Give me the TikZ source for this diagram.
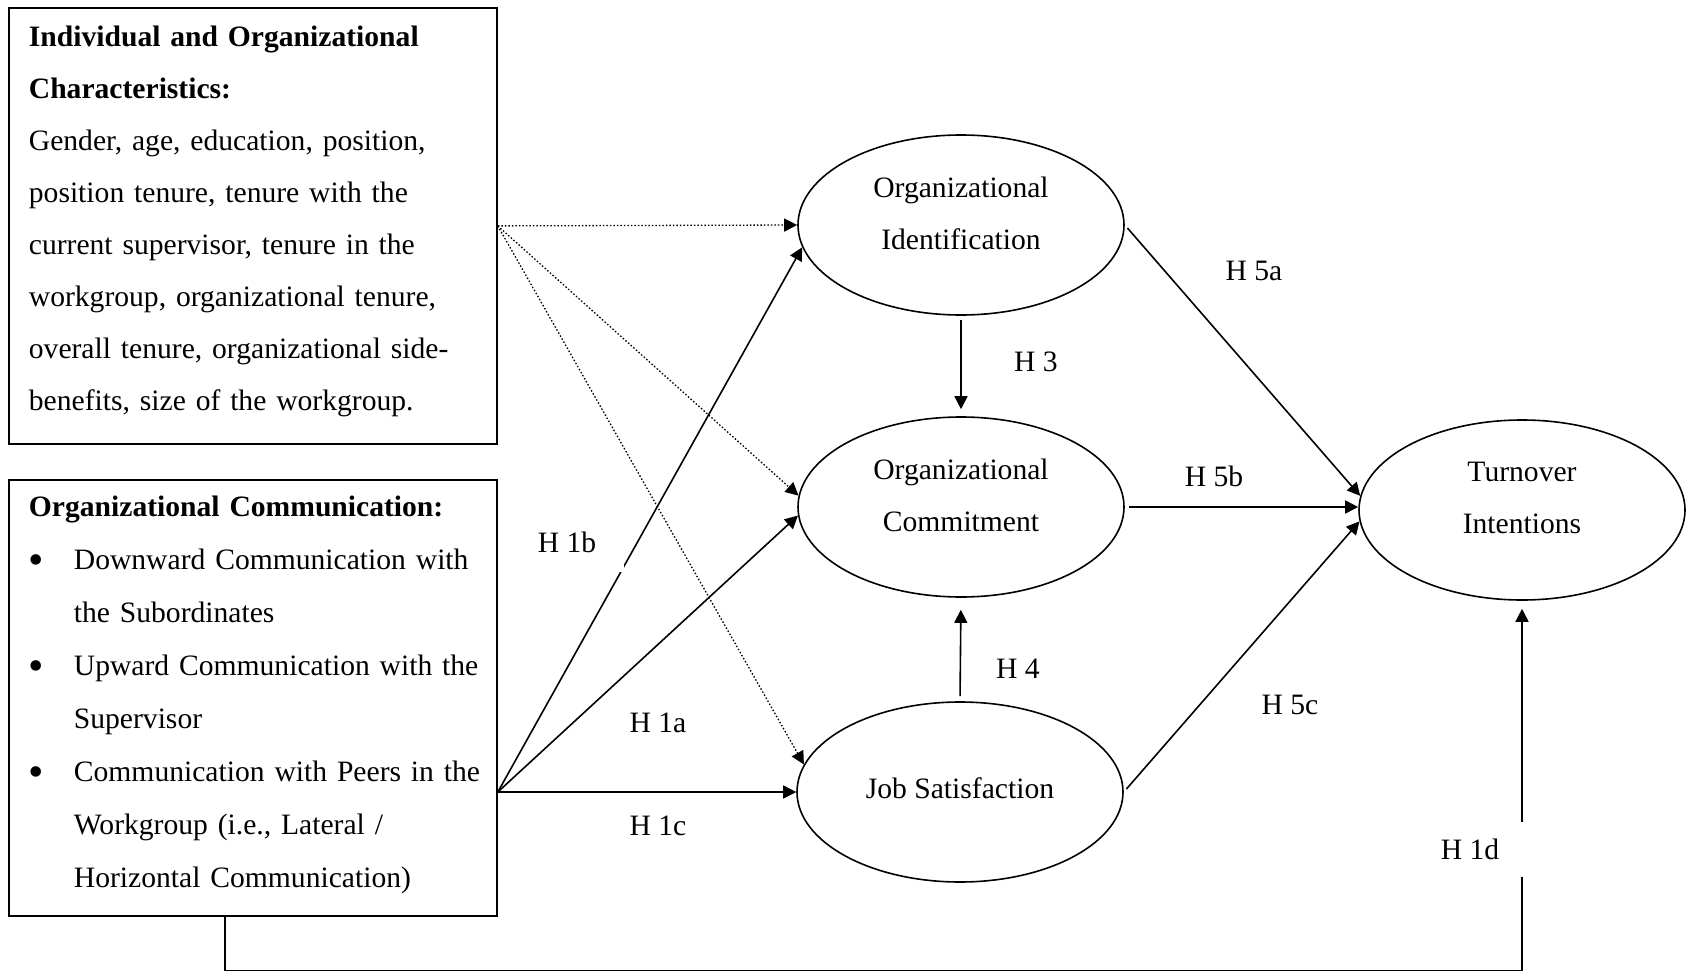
\documentclass[tikz,border=0pt]{standalone}
\usepackage{fontspec}
\setmainfont{Liberation Serif}
\usepackage{array}
\usetikzlibrary{arrows.meta,shapes.geometric}
\usetikzlibrary{positioning}
\tikzstyle{block} = [rectangle, draw=black, line width=1.8pt, anchor=north west, minimum width=488pt, minimum height=436pt, inner xsep=20pt, inner ysep=0pt, text width=448pt, align=left]
\tikzstyle{latent} = [ellipse, draw=black, line width=1.6pt, minimum width=326pt, minimum height=180pt, align=center, text depth=24pt]
\tikzstyle{link} = [line width=1.6pt, -{Triangle[length=13pt,width=13pt]}]
\tikzstyle{ctrl} = [link, line width=1.3pt, dash pattern=on 1.5pt off 2pt]
\tikzstyle{hyp} = [fill=white, inner sep=2pt]
\newcommand{\bigbullet}{\raisebox{-5pt}{\fontsize{44}{52}\selectfont\textbullet}}

\begin{document}
\begin{tikzpicture}[x=1pt, y=-1pt, font=\fontsize{29.6}{52}\selectfont]
\useasboundingbox (0,0) rectangle (1691,971);
 \node (chars) [block, text depth=380pt] at (8,7) {
  \textbf{Individual and Organizational}\\
  \textbf{Characteristics:}\\
  Gender, age, education, position,\\
  position tenure, tenure with the\\
  current supervisor, tenure in the\\
  workgroup, organizational tenure,\\
  overall tenure, organizational side-\\
  benefits, size of the workgroup.};
 \node (comm) [block, font=\fontsize{29.6}{52.9}\selectfont] at (8,479) {
\begin{tabular}{@{}p{45pt}@{}l@{}}
  \multicolumn{2}{@{}l@{}}{\textbf{Organizational Communication:}}\\
  \bigbullet & Downward Communication with\\
   & the Subordinates\\
  \bigbullet & Upward Communication with the\\
   & Supervisor\\
  \bigbullet & Communication with Peers in the\\
   & Workgroup (i.e., Lateral /\\
   & Horizontal Communication)\rule[-29pt]{0pt}{0pt}
 \end{tabular}};

 \node (oi) [latent] at (961,225) {Organizational\\Identification};
 \node (oc) [latent] at (961,507) {Organizational\\Commitment};
 \node (js) [latent, text depth=8pt] at (960,792) {Job Satisfaction};
 \node (ti) [latent] at (1522,510) {Turnover\\Intentions};
 \coordinate (commout) at (comm.east |- js.west);

 % control variables
 \draw[ctrl] (chars.east) -- (oi.west);
 \draw[ctrl] (chars.east) -- (oc.176);
 \draw[ctrl] (chars.east) -- (js.170);

 % hypotheses
 \draw[link] (commout) -- (oi.188);
 \draw[link] (commout) -- (oc.183);
 \draw[link] (commout) -- (js.west);
 \draw[link, shorten <=4pt, shorten >=7pt] (oi.south) -- (oc.north);
 \draw[link, shorten <=5pt, shorten >=12pt] (js.north) -- (oc.south);
 \draw[link, shorten <=4pt] (oi.east) -- (ti.175);
 \draw[link, shorten <=4pt] (oc.east) -- (oc.east -| ti.west);
 \draw[link, shorten <=4pt] (js.east) -- (ti.184);
 \draw[link, shorten >=8pt] ([xshift=-28pt]comm.south) -- ++(0,54) -| (ti.south);

 \node (h1a) [hyp] at (658,723) {H 1a};
 \node (h1b) [hyp, minimum width=114pt, minimum height=60pt] at (567,542) {H 1b};
 \node (h1c) [hyp] at (658,826) {H 1c};
 \node (h1d) [hyp, minimum width=116pt, minimum height=55pt] at (1470,849) {H 1d};
 \node (h3) [hyp] at (1036,362) {H 3};
 \node (h4) [hyp] at (1018,669) {H 4};
 \node (h5a) [hyp] at (1254,271) {H 5a};
 \node (h5b) [hyp] at (1214,476) {H 5b};
 \node (h5c) [hyp] at (1290,705) {H 5c};
\end{tikzpicture}
\end{document}
